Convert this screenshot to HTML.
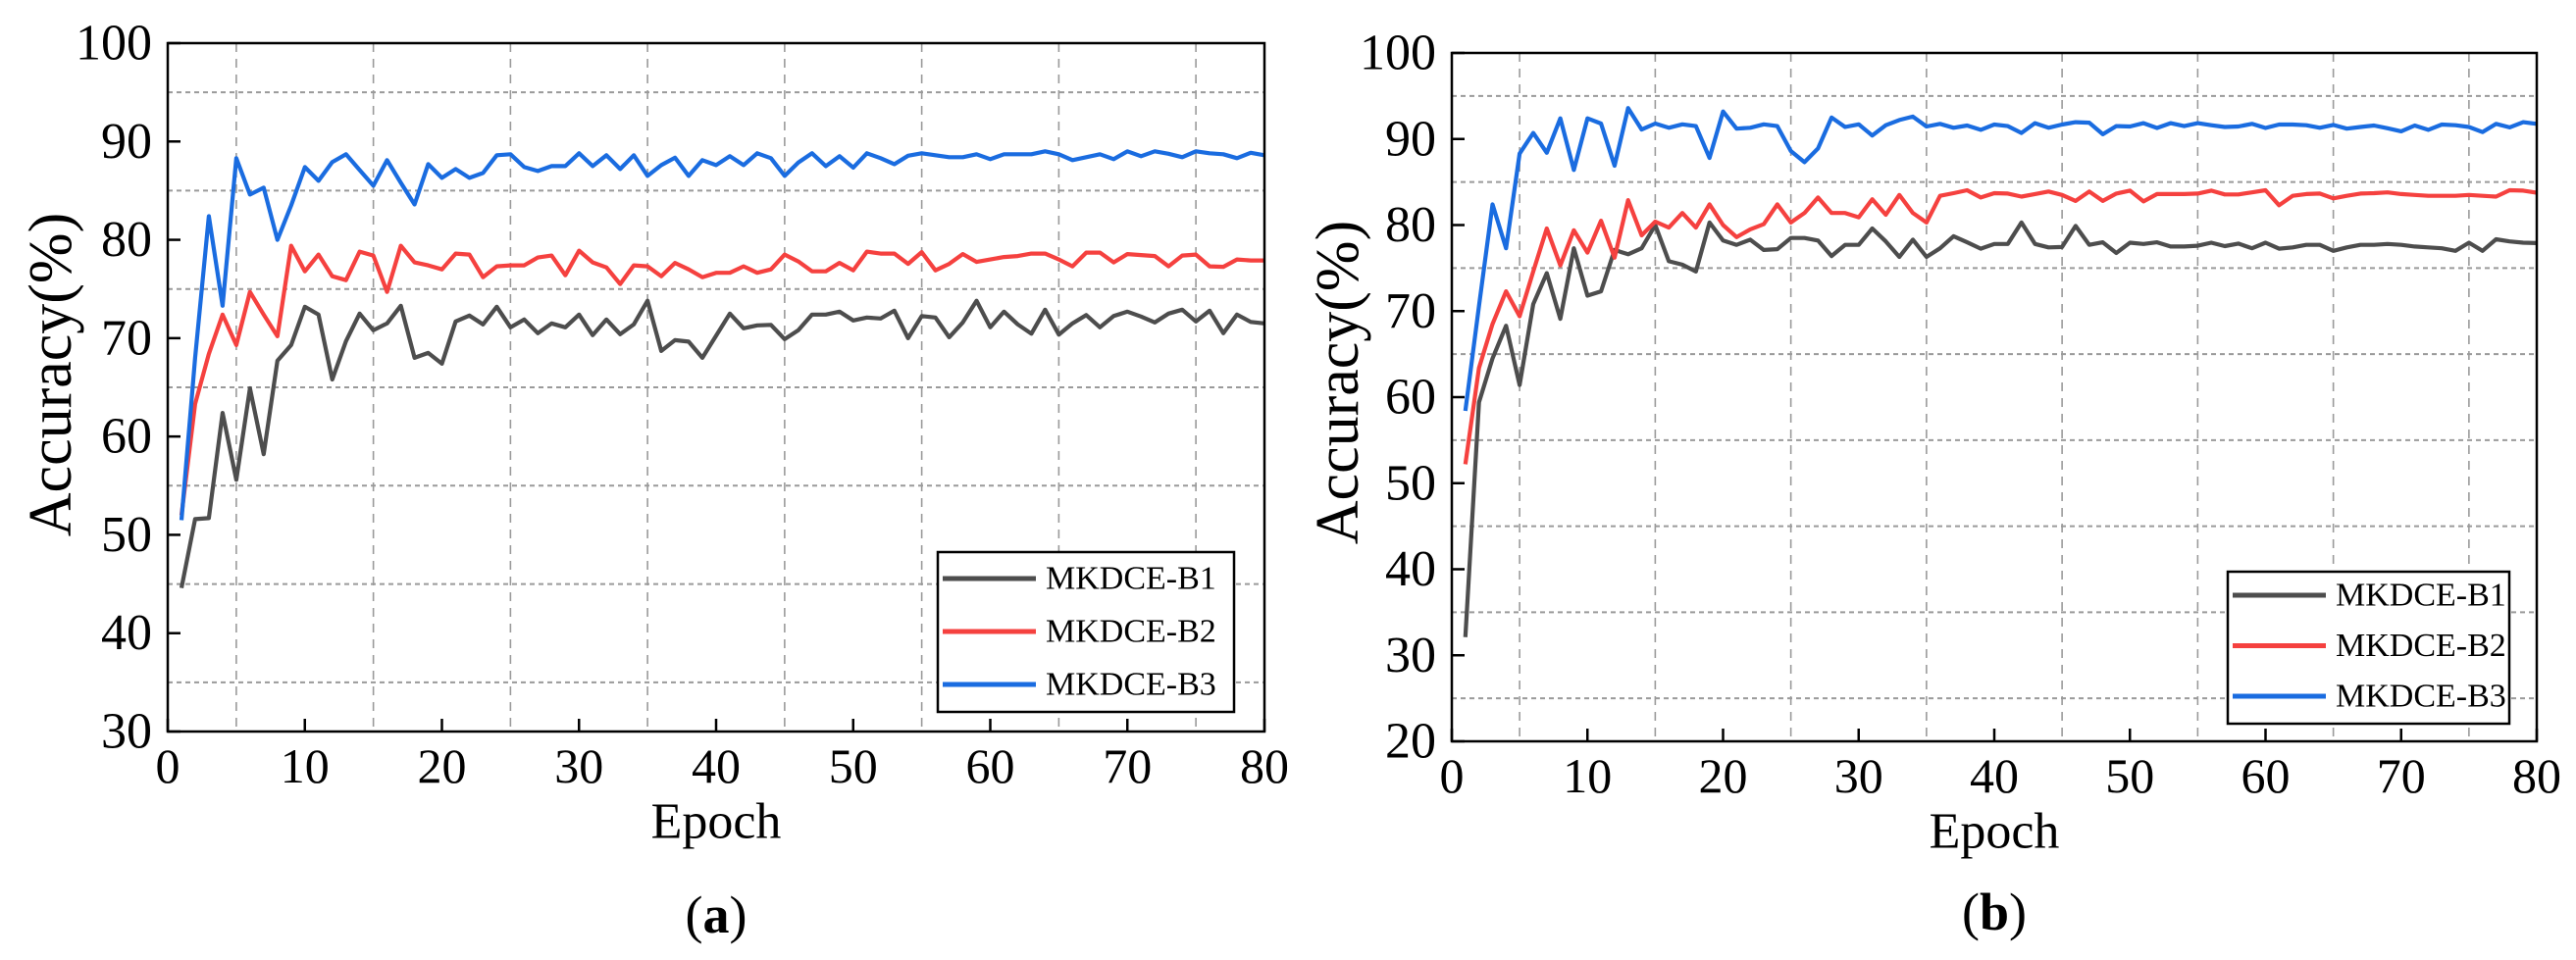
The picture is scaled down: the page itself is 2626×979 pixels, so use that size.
<!DOCTYPE html>
<html><head><meta charset="utf-8"><style>
html,body{margin:0;padding:0;background:#fff;}
svg{display:block;font-family:"Liberation Serif",serif;}
</style></head><body>
<svg id="fig" width="2626" height="979" viewBox="0 0 2626 979"></svg>
<script>
const epochs = Array.from({length:80},(_,i)=>i+1);
const seriesNames = ["MKDCE-B1","MKDCE-B2","MKDCE-B3"];
const aB1 = [44.6,51.6,51.7,62.4,55.6,64.9,58.2,67.7,69.3,73.2,72.4,65.8,69.7,72.5,70.8,71.5,73.3,68.0,68.5,67.4,71.7,72.3,71.4,73.2,71.1,71.9,70.5,71.5,71.1,72.4,70.3,71.9,70.4,71.4,73.8,68.7,69.8,69.65,68.0,70.25,72.5,71.0,71.3,71.35,69.9,70.8,72.4,72.4,72.7,71.8,72.1,72.0,72.8,70.0,72.25,72.1,70.1,71.6,73.8,71.1,72.7,71.4,70.45,72.9,70.35,71.5,72.35,71.1,72.25,72.7,72.2,71.6,72.5,72.9,71.7,72.8,70.5,72.4,71.65,71.5];
const aB2 = [52.0,63.3,68.4,72.4,69.3,74.7,72.4,70.2,79.4,76.8,78.5,76.3,75.9,78.8,78.4,74.7,79.4,77.7,77.4,77.0,78.6,78.5,76.2,77.3,77.4,77.4,78.2,78.4,76.4,78.9,77.7,77.2,75.5,77.4,77.3,76.3,77.65,77.0,76.2,76.65,76.65,77.3,76.65,77.0,78.5,77.8,76.8,76.8,77.65,76.9,78.8,78.6,78.6,77.55,78.75,76.9,77.55,78.55,77.75,78.0,78.25,78.35,78.6,78.6,78.0,77.3,78.7,78.7,77.7,78.55,78.45,78.35,77.3,78.4,78.5,77.3,77.25,78.0,77.9,77.9];
const aB3 = [51.5,68.0,82.4,73.3,88.3,84.6,85.3,80.0,83.5,87.4,86.0,87.9,88.7,87.1,85.5,88.1,85.8,83.6,87.7,86.3,87.2,86.3,86.8,88.6,88.7,87.4,87.0,87.5,87.5,88.8,87.5,88.6,87.2,88.6,86.5,87.6,88.35,86.5,88.1,87.6,88.5,87.6,88.8,88.3,86.5,87.85,88.8,87.5,88.5,87.35,88.8,88.3,87.7,88.55,88.8,88.6,88.4,88.4,88.7,88.2,88.7,88.7,88.7,89.0,88.7,88.1,88.4,88.7,88.2,89.0,88.5,89.0,88.75,88.4,89.0,88.8,88.7,88.3,88.85,88.6];
const bB1 = [32.1,59.4,64.5,68.3,61.4,70.8,74.4,69.1,77.3,71.8,72.3,77.1,76.6,77.3,80.0,75.8,75.4,74.6,80.3,78.2,77.7,78.3,77.1,77.2,78.5,78.5,78.2,76.4,77.7,77.7,79.6,78.1,76.3,78.3,76.3,77.3,78.7,78.0,77.25,77.8,77.8,80.3,77.8,77.4,77.45,79.9,77.7,78.0,76.75,77.95,77.8,78.0,77.5,77.5,77.6,77.95,77.55,77.85,77.3,77.95,77.25,77.4,77.7,77.7,77.0,77.4,77.7,77.7,77.8,77.7,77.5,77.4,77.3,77.0,77.95,77.0,78.35,78.1,77.95,77.9];
const bB2 = [52.2,63.4,68.5,72.3,69.4,74.6,79.6,75.3,79.4,76.8,80.5,76.2,82.9,78.8,80.4,79.7,81.4,79.7,82.4,80.0,78.6,79.5,80.1,82.4,80.3,81.4,83.2,81.4,81.4,80.9,83.0,81.2,83.5,81.4,80.3,83.4,83.7,84.05,83.2,83.7,83.66,83.3,83.6,83.9,83.5,82.8,83.9,82.8,83.66,84.0,82.75,83.6,83.6,83.6,83.66,84.0,83.55,83.55,83.8,84.05,82.3,83.4,83.6,83.66,83.1,83.4,83.66,83.7,83.8,83.6,83.5,83.4,83.4,83.4,83.5,83.4,83.3,84.05,84.0,83.75];
const bB3 = [58.4,70.6,82.4,77.3,88.3,90.7,88.4,92.4,86.4,92.4,91.8,86.9,93.6,91.1,91.8,91.3,91.7,91.5,87.8,93.2,91.2,91.3,91.7,91.5,88.6,87.3,88.9,92.5,91.4,91.7,90.4,91.6,92.2,92.6,91.45,91.76,91.3,91.57,91.07,91.68,91.5,90.7,91.84,91.3,91.68,91.95,91.9,90.55,91.5,91.45,91.84,91.28,91.84,91.5,91.84,91.6,91.4,91.45,91.76,91.28,91.68,91.68,91.6,91.3,91.64,91.2,91.4,91.57,91.25,90.9,91.57,91.07,91.68,91.6,91.4,90.8,91.76,91.35,91.95,91.76];
const xTicks = [0,10,20,30,40,50,60,70,80];
const xGrid = [5,15,25,35,45,55,65,75];
const aYTicks = [30,40,50,60,70,80,90,100];
const aYGrid = [35,45,55,65,75,85,95];
const bYTicks = [20,30,40,50,60,70,80,90,100];
const bYGrid = [25,35,45,55,65,75,85,95];

const colors = ["#4d4d4d","#f5413f","#1a6ce0"];
const NS = "http://www.w3.org/2000/svg";
const svg = document.getElementById("fig");
function mk(tag, attrs, parent){ const e=document.createElementNS(NS,tag); for(const k in attrs) e.setAttribute(k,attrs[k]); (parent||svg).appendChild(e); return e; }

function drawChart(cfg){
  const g = mk("g",{});
  
  
  const sx = v => cfg.x0 + (v-0)/(80-0)*(cfg.x1-cfg.x0);
  const sy = v => cfg.y1 - (v-cfg.ymin)/(100-cfg.ymin)*(cfg.y1-cfg.y0);
  // grid
  cfg.yGrid.forEach(v=>{
    const l = mk("line",{x1:cfg.x0,x2:cfg.x1,y1:sy(v),y2:sy(v),stroke:"#9a9a9a","stroke-width":2,"stroke-dasharray":"5 4"},g);
    
    
  });
  xGrid.forEach(v=>{
    const l = mk("line",{x1:sx(v),x2:sx(v),y1:cfg.y0,y2:cfg.y1,stroke:"#9a9a9a","stroke-width":1.6,"stroke-dasharray":"9 7"},g);
    
    
  });
  // series
  cfg.series.forEach((arr,si)=>{
    const pts = arr.map((v,i)=>sx(epochs[i]).toFixed(1)+","+sy(v).toFixed(1)).join(" ");
    const p = mk("polyline",{points:pts,fill:"none",stroke:colors[si],"stroke-width":4.2,"stroke-linejoin":"round"},g);
    
    
  });
  // frame
  const fr = mk("rect",{x:cfg.x0,y:cfg.y0,width:cfg.x1-cfg.x0,height:cfg.y1-cfg.y0,fill:"none",stroke:"#000","stroke-width":2.5},g);
  
  
  // ticks + labels
  xTicks.forEach(v=>{
    const t = mk("line",{x1:sx(v),x2:sx(v),y1:cfg.y1,y2:cfg.y1-13,stroke:"#000","stroke-width":2.5},g);
    
    
    const tx = mk("text",{x:sx(v),y:cfg.xLabY,"text-anchor":"middle","dominant-baseline":"central","font-size":50},g);
    tx.textContent = v;
    
    
  });
  cfg.yTicks.forEach(v=>{
    const t = mk("line",{x1:cfg.x0,x2:cfg.x0+13,y1:sy(v),y2:sy(v),stroke:"#000","stroke-width":2.5},g);
    
    
    const tx = mk("text",{x:cfg.x0-16,y:sy(v),"text-anchor":"end","dominant-baseline":"central","font-size":52},g);
    tx.textContent = v;
    
    
  });
  const xt = mk("text",{x:(cfg.x0+cfg.x1)/2,y:cfg.xTitleY,"text-anchor":"middle","dominant-baseline":"central","font-size":52},g);
  xt.textContent = "Epoch";
  
  
  const yt = mk("text",{x:0,y:0,"text-anchor":"middle","dominant-baseline":"central","font-size":62,transform:`translate(${cfg.yTitleX},${cfg.yTitleY}) rotate(-90)`},g);
  yt.textContent = "Accuracy(%)";
  
  
  const cap = mk("text",{x:(cfg.x0+cfg.x1)/2,y:cfg.capY,"text-anchor":"middle","dominant-baseline":"central","font-size":54},g);
  cap.innerHTML = '(<tspan font-weight="bold">'+cfg.cap+'</tspan>)';
  
  
  // legend
  const L = cfg.legend;
  const lg = mk("g",{},g);
  
  
  mk("rect",{x:L.x,y:L.y,width:L.w,height:L.h,fill:"#fff",stroke:"#000","stroke-width":2.5},lg);
  seriesNames.forEach((n,i)=>{
    const yy = L.y + L.first + i*L.gap;
    const ln = mk("line",{x1:L.x+5,x2:L.x+100,y1:yy,y2:yy,stroke:colors[i],"stroke-width":5},lg);
    
    
    const tx = mk("text",{x:L.x+110,y:yy,"dominant-baseline":"central","font-size":34},lg);
    tx.textContent = n;
    
    
  });
}

drawChart({name:"chart-a",x0:171,x1:1289,y0:44,y1:746,ymin:30,yTicks:aYTicks,yGrid:aYGrid,
  series:[aB1,aB2,aB3],xLabY:781,xTitleY:838,yTitleX:52,yTitleY:382,capY:933,cap:"a",
  legend:{x:956,y:563,w:302,h:163,first:27,gap:54}});
drawChart({name:"chart-b",x0:1480,x1:2586,y0:54,y1:756,ymin:20,yTicks:bYTicks,yGrid:bYGrid,
  series:[bB1,bB2,bB3],xLabY:791,xTitleY:848,yTitleX:1364,yTitleY:390,capY:930,cap:"b",
  legend:{x:2271,y:583,w:287,h:155,first:24,gap:51.5}});
</script>
</body></html>
